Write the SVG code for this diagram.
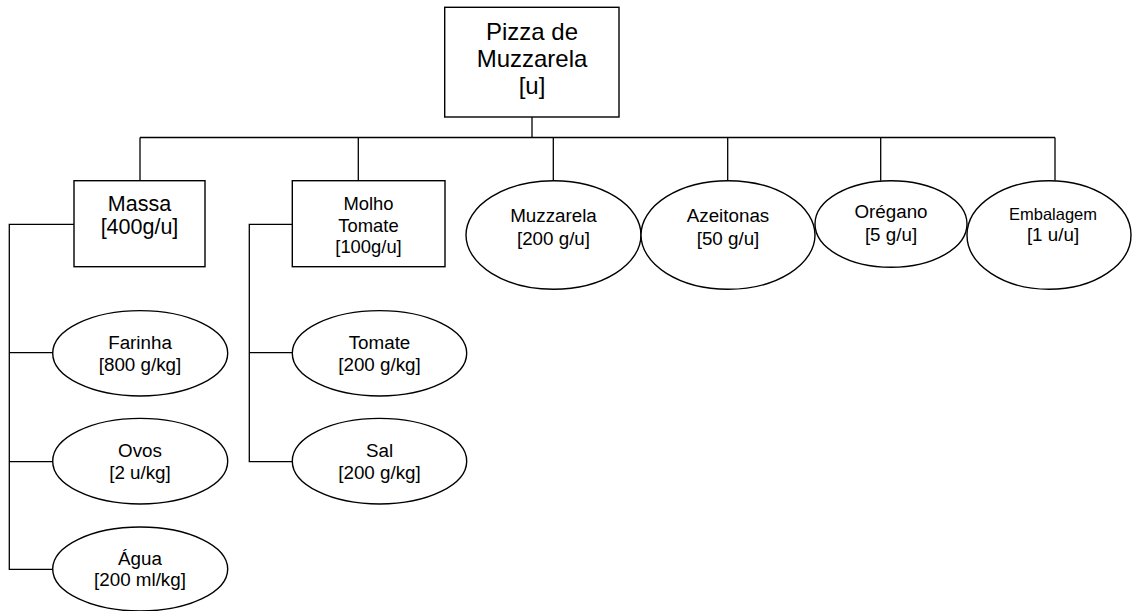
<svg xmlns="http://www.w3.org/2000/svg" width="1133" height="611" viewBox="0 0 1133 611">
  <style>
    .box { fill: #ffffff; stroke: #000000; stroke-width: 1.4; }
    .oval { fill: #ffffff; stroke: #000000; stroke-width: 1.4; }
    .wire { fill: none; stroke: #000000; stroke-width: 1.3; }
    text { font-family: "Liberation Sans", Arial, sans-serif; fill: #000000; text-anchor: middle; }
    .t24 { font-size: 24px; }
    .t21 { font-size: 21.5px; }
    .t18 { font-size: 18.8px; }
    .tm { font-size: 18.4px; }
    .t16 { font-size: 16.5px; }
  </style>
  <rect width="1133" height="611" fill="#ffffff"/>

  <!-- connectors -->
  <g id="connectors" class="wire">
    <path d="M532 117 V137.5"/>
    <path d="M140 137.5 H1055"/>
    <path d="M140 137.5 V180.7"/>
    <path d="M358.3 137.5 V180.7"/>
    <path d="M553.3 137.5 V180.7"/>
    <path d="M727.7 137.5 V180.7"/>
    <path d="M880.7 137.5 V180.7"/>
    <path d="M1055 137.5 V180.7"/>
    <!-- Massa sub-tree -->
    <path d="M74 224.3 H9.3 V569.3 H52.7"/>
    <path d="M9.3 352.7 H52.7"/>
    <path d="M9.3 461.7 H52.7"/>
    <!-- Molho sub-tree -->
    <path d="M292.3 224.3 H249.3 V461.7 H292.3"/>
    <path d="M249.3 352.7 H292.3"/>
  </g>

  <g id="pizza">
    <rect class="box" x="444.7" y="7.3" width="174.3" height="109.7"/>
    <text class="t24" x="532" y="40">Pizza de</text>
    <text class="t24" x="532" y="67">Muzzarela</text>
    <text class="t24" x="532" y="94">[u]</text>
  </g>

  <g id="massa">
    <rect class="box" x="74" y="180.7" width="131" height="86"/>
    <text class="t21" x="139.5" y="211">Massa</text>
    <text class="t21" x="139.5" y="234">[400g/u]</text>
  </g>

  <g id="molho">
    <rect class="box" x="292.3" y="180.7" width="152.7" height="86"/>
    <text class="tm" x="368.5" y="210">Molho</text>
    <text class="tm" x="368.5" y="231.5">Tomate</text>
    <text class="tm" x="368.5" y="253">[100g/u]</text>
  </g>

  <g id="muzzarela">
    <ellipse class="oval" cx="553.5" cy="235" rx="87.5" ry="54.3"/>
    <text class="t18" x="553.5" y="221.7">Muzzarela</text>
    <text class="t18" x="553.5" y="245">[200 g/u]</text>
  </g>

  <g id="azeitonas">
    <ellipse class="oval" cx="728" cy="235" rx="87" ry="54.3"/>
    <text class="t18" x="728" y="221.7">Azeitonas</text>
    <text class="t18" x="728" y="245">[50 g/u]</text>
  </g>

  <g id="oregano">
    <ellipse class="oval" cx="891" cy="224" rx="76" ry="43.3"/>
    <text class="t18" x="891" y="218.3">Orégano</text>
    <text class="t18" x="891" y="241">[5 g/u]</text>
  </g>

  <g id="embalagem">
    <ellipse class="oval" cx="1049" cy="235" rx="82" ry="54.3"/>
    <text class="t16" x="1053" y="220">Embalagem</text>
    <text class="t18" x="1053" y="241">[1 u/u]</text>
  </g>

  <g id="farinha">
    <ellipse class="oval" cx="140.2" cy="353.3" rx="87.5" ry="42.7"/>
    <text class="t18" x="140" y="349">Farinha</text>
    <text class="t18" x="140" y="371">[800 g/kg]</text>
  </g>

  <g id="ovos">
    <ellipse class="oval" cx="140.2" cy="461.2" rx="87.5" ry="42.8"/>
    <text class="t18" x="140" y="457">Ovos</text>
    <text class="t18" x="140" y="479">[2 u/kg]</text>
  </g>

  <g id="agua">
    <ellipse class="oval" cx="140.2" cy="569" rx="87.5" ry="42"/>
    <text class="t18" x="140" y="565">Água</text>
    <text class="t18" x="140" y="586">[200 ml/kg]</text>
  </g>

  <g id="tomate">
    <ellipse class="oval" cx="379.5" cy="353.3" rx="87.2" ry="42.7"/>
    <text class="t18" x="379.5" y="349">Tomate</text>
    <text class="t18" x="379.5" y="371">[200 g/kg]</text>
  </g>

  <g id="sal">
    <ellipse class="oval" cx="379.5" cy="461.2" rx="87.2" ry="42.8"/>
    <text class="t18" x="379.5" y="457">Sal</text>
    <text class="t18" x="379.5" y="479">[200 g/kg]</text>
  </g>
</svg>
